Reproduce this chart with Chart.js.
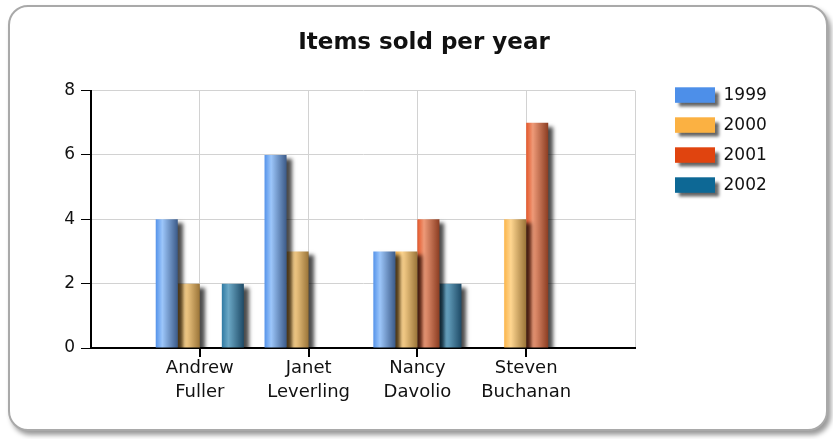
<!DOCTYPE html>
<html>
<head>
<meta charset="utf-8">
<script src="https://cdn.jsdelivr.net/npm/chart.js@4"></script>
<style>
  html, body { margin: 0; background: #fff; }
  #frame {
    position: absolute; left: 8px; top: 5px;
    width: 816px; height: 422px;
    border: 2px solid #a9a9a9; border-radius: 20px;
    background: #fff;
    box-shadow: 3px 4px 5px rgba(0,0,0,0.4);
  }
  #chart { display: block; }
</style>
</head>
<body>
<div id="frame"><canvas id="chart" width="816" height="422"></canvas></div>
<script>
// data
const people = ['Andrew Fuller', 'Janet Leverling', 'Nancy Davolio', 'Steven Buchanan'];
const years = ['1999', '2000', '2001', '2002'];
const sold1999 = [4, 6, 3, null];
const sold2000 = [2, 3, 3, 4];
const sold2001 = [null, null, 4, 7];
const sold2002 = [2, null, 2, null];
const yTicks = [0, 2, 4, 6, 8];

// legend colour, then bar shading: left, highlight, right
const colors = ['#4d8fe9', '#fbb142', '#e0440f', '#0d6895'];
const shades = [
  ['#5593ea', '#9cc6fa', '#3b5a88'],
  ['#fbb54a', '#ffd690', '#9a7438'],
  ['#e5572a', '#ee9a78', '#8b3d22'],
  ['#2f7aa3', '#6ba8c6', '#1e4a66']
];

Chart.defaults.font.family = "'DejaVu Sans', Verdana, sans-serif";
Chart.defaults.color = '#111';

// empty slots at both ends so the people sit on the inner grid lines
const labels = [''].concat(people.map(p => p.split(' ')), ['']);
function pad(arr) { return [null].concat(arr, [null]); }

// gradients + drop shadows on the bars, shadow under legend boxes,
// tick marks under the names, and nudge title / legend into place
const styling = {
  id: 'styling',
  afterLayout(chart) {
    const area = chart.chartArea;
    const lg = chart.legend;
    lg.left = area.right + 27;
    lg.right = lg.left + 140;
    lg.top = area.top - 17;
    lg.bottom = lg.top + 140;
    const t = chart.titleBlock;
    t.left = 12;
    t.right = chart.width;
  },
  beforeDraw(chart) {
    const ctx = chart.ctx;
    const lg = chart.legend;
    ctx.save();
    ctx.shadowColor = 'rgba(0,0,0,0.6)';
    ctx.shadowBlur = 3;
    ctx.shadowOffsetX = 4;
    ctx.shadowOffsetY = 4;
    colors.forEach((c, i) => {
      ctx.fillStyle = c;
      ctx.fillRect(lg.left + 13, lg.top + 13 + i * 30 + 1, 40, 15);
    });
    ctx.restore();
  },
  beforeDatasetDraw(chart, args) {
    const ctx = chart.ctx;
    const s = shades[args.index];
    args.meta.data.forEach(bar => {
      if (!isFinite(bar.x) || !isFinite(bar.width) || bar.width <= 0) return;
      const half = bar.width / 2;
      const g = ctx.createLinearGradient(bar.x - half, 0, bar.x + half, 0);
      g.addColorStop(0, s[0]);
      g.addColorStop(0.3, s[1]);
      g.addColorStop(1, s[2]);
      bar.options = Object.assign({}, bar.options, { backgroundColor: g });
    });
    ctx.save();
    ctx.shadowColor = 'rgba(0,0,0,0.7)';
    ctx.shadowBlur = 4;
    ctx.shadowOffsetX = 5;
    ctx.shadowOffsetY = 4;
  },
  afterDatasetDraw(chart) {
    chart.ctx.restore();
  },
  afterDraw(chart) {
    const sx = chart.scales.x;
    const ctx = chart.ctx;
    ctx.save();
    ctx.fillStyle = '#000';
    for (let i = 1; i < labels.length - 1; i++) {
      const x = Math.round(sx.getPixelForTick(i));
      ctx.fillRect(x - 1, sx.top, 2, 9);
    }
    ctx.restore();
  }
};

const series = [sold1999, sold2000, sold2001, sold2002];

new Chart(document.getElementById('chart'), {
  type: 'bar',
  data: {
    labels: labels,
    datasets: series.map((vals, i) => ({
      label: years[i],
      data: pad(vals),
      backgroundColor: colors[i],
      borderWidth: 0,
      categoryPercentage: 0.81,
      barPercentage: 1.0,
      clip: { left: false, right: false, top: false, bottom: 0 }
    }))
  },
  options: {
    responsive: false,
    animation: false,
    layout: { padding: { left: 31, right: 91, top: 0, bottom: 21 } },
    plugins: {
      title: {
        display: true,
        text: 'Items sold per year',
        color: '#111',
        font: { size: 23, weight: 'bold' },
        padding: { top: 22, bottom: 34 }
      },
      legend: {
        position: 'right',
        align: 'start',
        maxWidth: 100,
        labels: {
          boxWidth: 40,
          boxHeight: 15,
          padding: 13,
          color: '#111',
          font: { size: 17 }
        }
      },
      tooltip: { enabled: false }
    },
    scales: {
      x: {
        offset: false,
        afterFit(scale) { scale.height = 60; },
        grid: {
          offset: false,
          color: '#d2d2d2',
          tickLength: 8,
          tickColor: 'rgba(0,0,0,0)'
        },
        border: { display: true, color: '#000', width: 2 },
        ticks: {
          autoSkip: false,
          maxRotation: 0,
          padding: 0,
          color: '#111',
          font: { size: 18, lineHeight: 1.35 }
        }
      },
      y: {
        min: yTicks[0],
        max: yTicks[yTicks.length - 1],
        afterFit(scale) { scale.width = 50; },
        afterBuildTicks(scale) { scale.ticks = yTicks.map(v => ({ value: v })); },
        grid: { color: '#d2d2d2', tickLength: 10, tickColor: '#000' },
        border: { display: true, color: '#000', width: 2 },
        ticks: { padding: 6, color: '#111', font: { size: 17 } }
      }
    }
  },
  plugins: [styling]
});
</script>
</body>
</html>
